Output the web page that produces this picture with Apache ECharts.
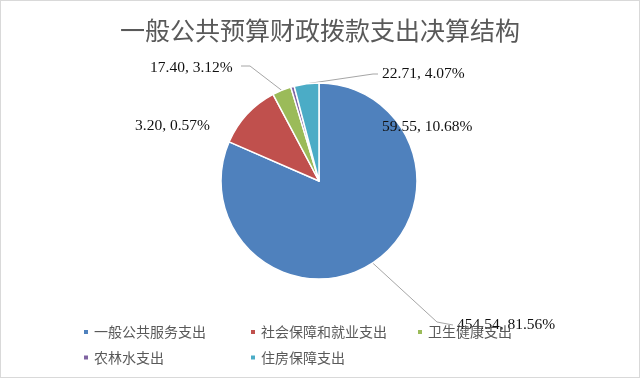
<!DOCTYPE html>
<html>
<head>
<meta charset="utf-8">
<script src="https://cdn.jsdelivr.net/npm/echarts@6/dist/echarts.min.js"></script>
<style>
  html, body { margin: 0; padding: 0; background: #fff; }
  #chart { width: 640px; height: 378px; box-sizing: border-box; border: 1px solid #d9d9d9; }
</style>
</head>
<body>
<div id="chart"></div>
<script>
const categories = ["一般公共服务支出", "社会保障和就业支出", "卫生健康支出", "农林水支出", "住房保障支出"];
const amounts = [454.54, 59.55, 17.40, 3.20, 22.71];
const percents = [81.56, 10.68, 3.12, 0.57, 4.07];
const colors = ["#4F81BD", "#C0504D", "#9BBB59", "#8064A2", "#4BACC6"];

// labels were dragged around by hand in the original, so place them the same way
const labelSpots = [
  { x: 456, y: 324, line: [[436, 321], [452, 324]] },
  { x: 381, y: 126 },
  { x: 149, y: 67, line: [[249, 65], [240, 65]] },
  { x: 134, y: 125 },
  { x: 381, y: 73, line: [[372, 73], [377, 73]] }
];

const chart = echarts.init(document.getElementById("chart"), null, { renderer: "canvas" });

const legendBase = {
  orient: "vertical",
  top: 319,
  icon: "rect",
  itemWidth: 6,
  itemHeight: 6,
  itemGap: 11.5,
  textStyle: { fontFamily: "Noto Sans CJK SC", fontSize: 14, color: "#595959" }
};

chart.setOption({
  animation: false,
  backgroundColor: "#fff",
  title: {
    text: "一般公共预算财政拨款支出决算结构",
    left: "center",
    top: 12,
    textStyle: { fontFamily: "Noto Sans CJK SC", fontSize: 25, fontWeight: "normal", color: "#595959" }
  },
  legend: [
    Object.assign({}, legendBase, { left: 76, data: [categories[0], categories[3]] }),
    Object.assign({}, legendBase, { left: 243, data: [categories[1], categories[4]] }),
    Object.assign({}, legendBase, { left: 410, data: [categories[2]] })
  ],
  series: [
    {
      type: "pie",
      center: [318, 180],
      radius: 98,
      startAngle: 90,
      clockwise: true,
      avoidLabelOverlap: false,
      emphasis: { disabled: true },
      itemStyle: { borderColor: "#fff", borderWidth: 1.5 },
      label: {
        show: true,
        position: "outside",
        fontFamily: "Liberation Serif",
        fontSize: 15.5,
        color: "#111",
        formatter: (p) => amounts[p.dataIndex].toFixed(2) + ", " + percents[p.dataIndex].toFixed(2) + "%"
      },
      labelLine: { show: true, lineStyle: { color: "#a6a6a6", width: 1 } },
      labelLayout: (params) => {
        const s = labelSpots[params.dataIndex];
        const out = { x: s.x, y: s.y, align: "left", verticalAlign: "middle" };
        if (s.line && params.labelLinePoints) {
          out.labelLinePoints = [params.labelLinePoints[0], s.line[0], s.line[1]];
        }
        return out;
      },
      data: categories.map((name, i) => ({
        name: name,
        value: amounts[i],
        itemStyle: { color: colors[i] },
        labelLine: { show: !!labelSpots[i].line }
      }))
    }
  ]
});
</script>
</body>
</html>
